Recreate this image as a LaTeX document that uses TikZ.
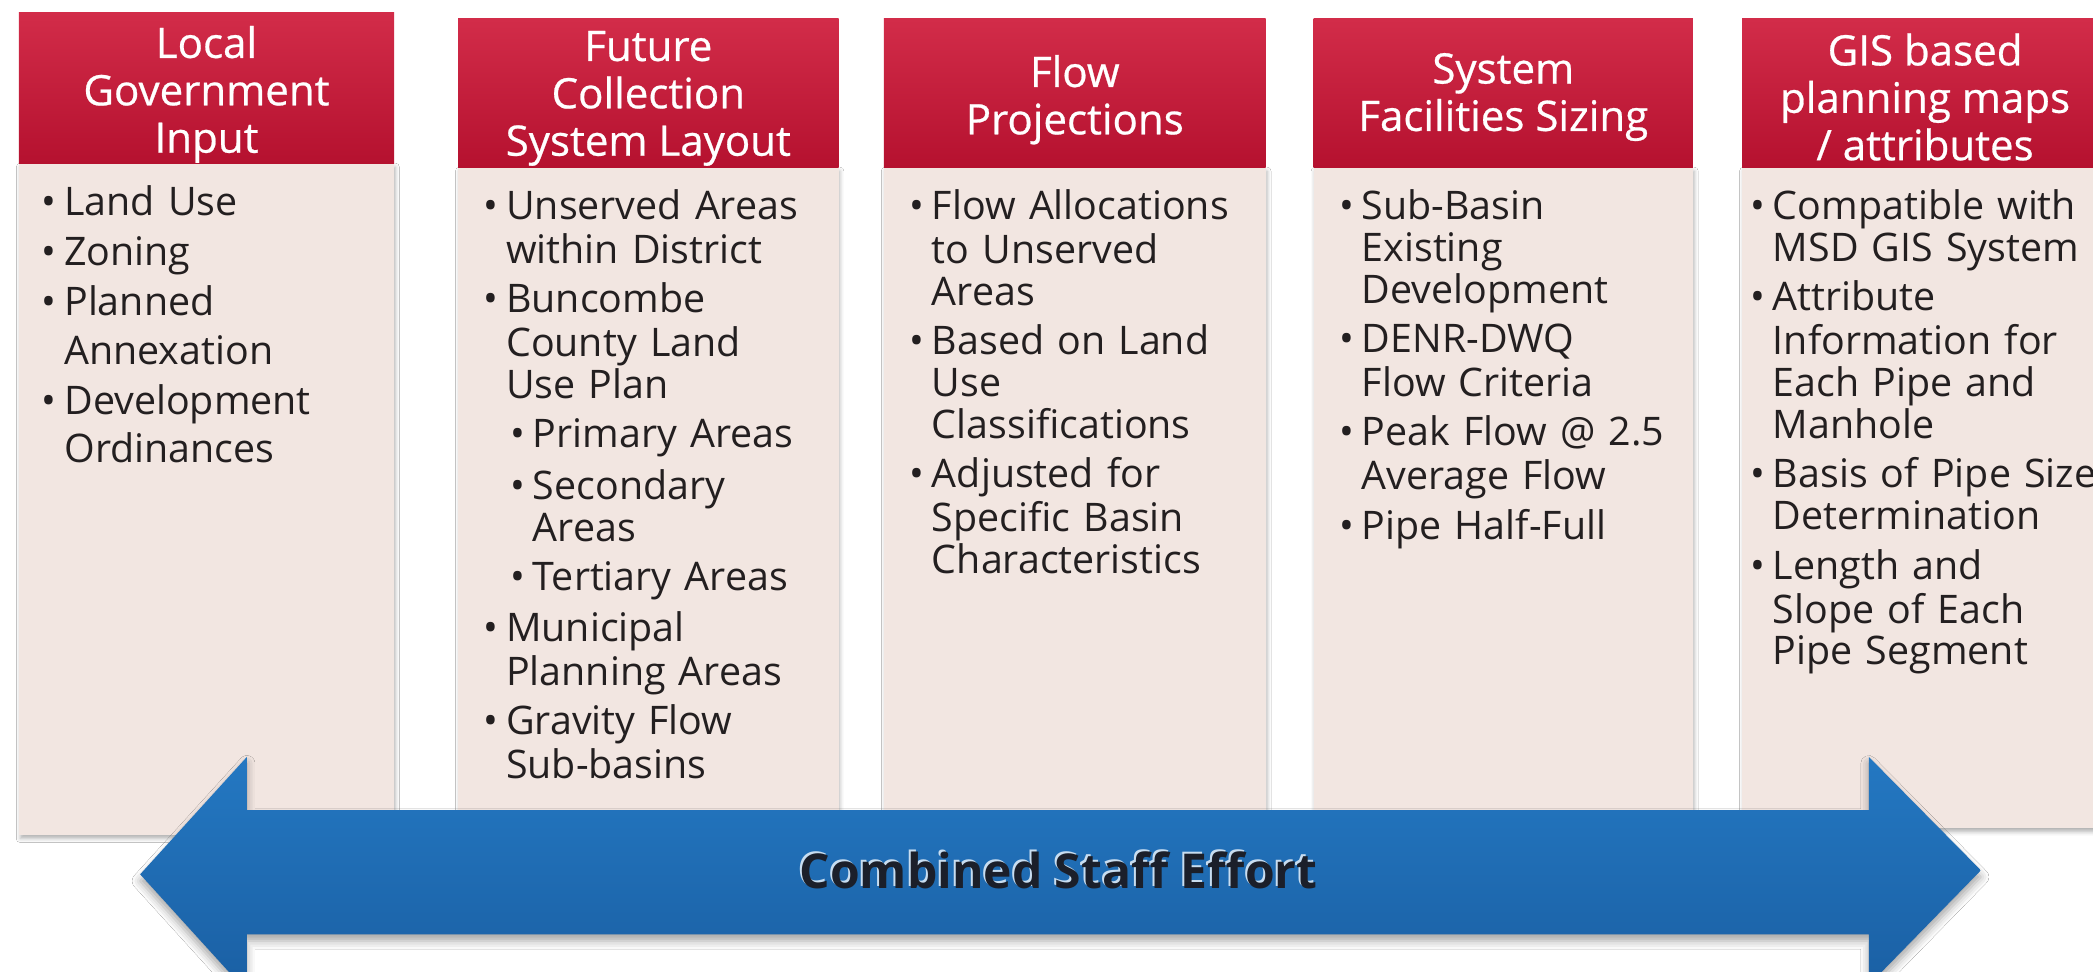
\documentclass[tikz,border=0pt]{standalone}
\usepackage{fontspec}
\setmainfont{Open Sans}
\newfontfamily\hdrfont{Open Sans}[FakeBold=0.6]
\usetikzlibrary{shadows.blur}
\definecolor{hdrtop}{HTML}{D22C49}
\definecolor{hdrbot}{HTML}{B5112F}
\definecolor{bodyc}{HTML}{F2E6E1}
\definecolor{arrtop}{HTML}{2478C2}
\definecolor{arrbot}{HTML}{1A5FA3}
\definecolor{txtc}{HTML}{231F20}
\definecolor{lbltxt}{HTML}{1B1F2A}
\newcommand{\bi}[1]{\noindent\hangindent=17pt\hangafter=1\strut\makebox[17pt][l]{•}#1}
\newcommand{\sbi}[1]{\noindent\hangindent=37pt\hangafter=1\strut\hspace*{20pt}\makebox[17pt][l]{•}#1}
\newcommand{\gap}{\par\vspace{5.7pt}}
\newcommand{\gapa}{\par\vspace{1pt}}
\tikzset{
  colbody/.style={draw=none, fill=bodyc, anchor=north west, inner sep=0pt,
    blur shadow={shadow xshift=1pt, shadow yshift=-3pt, shadow blur radius=3pt, shadow opacity=30}},
  colhead/.style={anchor=north west, inner sep=0pt, top color=hdrtop, bottom color=hdrbot},
  htext/.style={text=white, align=center, inner sep=0pt, font=\hdrfont\fontsize{31.5}{35.5}\selectfont},
  bodytext/.style={anchor=north west, inner sep=0pt, text width=300pt, align=left,
    text=txtc, font=\fontsize{29.5}{31.3}\selectfont},
  bodytexta/.style={bodytext, font=\fontsize{29.5}{36.5}\selectfont},
  arrowshape/.style={top color=arrtop, bottom color=arrbot,
    blur shadow={shadow xshift=0pt, shadow yshift=-5pt, shadow blur radius=6pt, shadow opacity=35}},
  lbl/.style={font=\fontsize{36}{40}\selectfont\bfseries, text=lbltxt, inner sep=0pt},
  lblhi/.style={font=\fontsize{36}{40}\selectfont\bfseries, text=white!75!arrtop, inner sep=0pt}
}
\begin{document}
\begin{tikzpicture}[x=1pt,y=-1pt]
\useasboundingbox (0,0) rectangle (1568,728);
\clip (0,0) rectangle (1568,728);
\fill[white] (0,0) rectangle (1568,728);

% column bodies
\node[colbody, minimum width=281pt, minimum height=503pt] (c1) at (14,122) {};
\node[colbody, minimum width=285pt, minimum height=495pt] (c2) at (343,125) {};
\node[colbody, minimum width=286pt, minimum height=495pt] (c3) at (662,125) {};
\node[colbody, minimum width=284pt, minimum height=495pt] (c4) at (984,125) {};
\node[colbody, minimum width=290pt, minimum height=495pt] (c5) at (1305,125) {};

% headers (boxes)
\node[colhead, minimum width=281pt, minimum height=113pt] (h1) at (14,9) {};
\node[colhead, minimum width=285pt, minimum height=111pt] (h2) at (343,14) {};
\node[colhead, minimum width=286pt, minimum height=111pt] (h3) at (662,14) {};
\node[colhead, minimum width=284pt, minimum height=111pt] (h4) at (984,14) {};
\node[colhead, minimum width=290pt, minimum height=111pt] (h5) at (1305,14) {};

% header texts
\node[htext] (ht1) at ([yshift=-5pt]h1.center) {Local\\Government\\Input};
\node[htext] (ht2) at ([yshift=-4pt]h2.center) {Future\\Collection\\System Layout};
\node[htext] (ht3) at ([yshift=-5pt]h3.center) {Flow\\Projections};
\node[htext] (ht4) at ([yshift=-3pt]h4.center) {System\\Facilities Sizing};
\node[htext] (ht5) at ([xshift=-8pt,yshift=-3pt]h5.center) {GIS based\\planning maps\\/ attributes};

% body texts
\node[bodytexta] (t1) at (31,135.5) {%
\bi{Land Use}\gapa
\bi{Zoning}\gapa
\bi{Planned\newline Annexation}\gapa
\bi{Development\newline Ordinances}\par};

\node[bodytext] (t2) at (362,142) {%
\bi{Unserved Areas\newline within District}\gap
\bi{Buncombe\newline County Land\newline Use Plan}\gap
\sbi{Primary Areas}\gap
\sbi{Secondary\newline Areas}\gap
\sbi{Tertiary Areas}\gap
\bi{Municipal\newline Planning Areas}\gap
\bi{Gravity Flow\newline Sub-basins}\par};

\node[bodytext] (t3) at (681,142) {%
\bi{Flow Allocations\newline to Unserved\newline Areas}\gap
\bi{Based on Land\newline Use\newline Classifications}\gap
\bi{Adjusted for\newline Specific Basin\newline Characteristics}\par};

\node[bodytext] (t4) at (1003,142) {%
\bi{Sub-Basin\newline Existing\newline Development}\gap
\bi{DENR-DWQ\newline Flow Criteria}\gap
\bi{Peak Flow @ 2.5\newline Average Flow}\gap
\bi{Pipe Half-Full}\par};

\node[bodytext] (t5) at (1311,142) {%
\bi{Compatible with\newline MSD GIS System}\gap
\bi{Attribute\newline Information for\newline Each Pipe and\newline Manhole}\gap
\bi{Basis of Pipe Size\newline Determination}\gap
\bi{Length and\newline Slope of Each\newline Pipe Segment}\par};

% double arrow
\path[arrowshape] (105,655) -- (185,567) -- (185,607) -- (1400,607) -- (1400,567)
  -- (1484,652) -- (1400,738) -- (1400,700) -- (185,700) -- (185,743) -- cycle;

\node[lblhi] (lblh) at (791.5,650.5) {Combined Staff Effort};
\node[lbl] (lbl) at (793,652) {Combined Staff Effort};
\end{tikzpicture}
\end{document}
